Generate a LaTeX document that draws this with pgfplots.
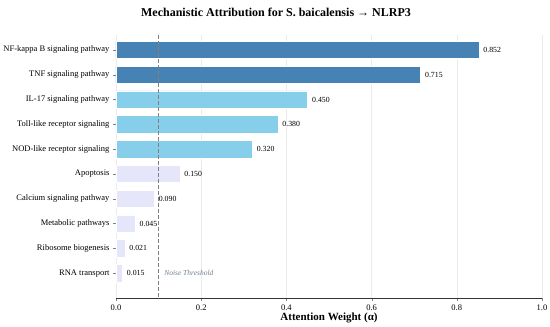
\documentclass[border=0pt]{standalone}
\usepackage{pgfplots}
\pgfplotsset{compat=1.18}
\usepackage{fontspec}
\setmainfont{Liberation Serif}
\definecolor{darkb}{HTML}{4682B4}
\definecolor{lightb}{HTML}{87CEEB}
\definecolor{lav}{HTML}{E6E6FA}
\definecolor{thr}{HTML}{708090}
\begin{document}
\begin{tikzpicture}
\path[use as bounding box] (0,0) rectangle (550pt,327pt);
\begin{axis}[
  at={(116pt,29pt)}, anchor=south west,
  scale only axis, width=426pt, height=263pt,
  xbar, bar width=0.7, bar shift=0pt,
  y dir=reverse,
  xmin=0, xmax=1.0, ymin=-0.6, ymax=10,
  axis lines*=left,
  y axis line style={draw=none},
  x axis line style={line width=0.8pt, black!80},
  tick align=outside,
  major tick length=3pt,
  xtick={0,0.2,0.4,0.6,0.8,1.0},
  ytick={0,...,9},
  yticklabels={NF-kappa B signaling pathway,TNF signaling pathway,IL-17 signaling pathway,Toll-like receptor signaling,NOD-like receptor signaling,Apoptosis,Calcium signaling pathway,Metabolic pathways,Ribosome biogenesis,RNA transport},
  /pgf/number format/assume math mode=true,
  xticklabel={\pgfmathprintnumber[fixed,precision=1,fixed zerofill]{\tick}},
  ticklabel style={font=\fontsize{8.5}{10}\selectfont},
  xmajorgrids, grid style={black!8, line width=0.5pt},
  xlabel={\textbf{Attention Weight (α)}},
  xlabel style={font=\fontsize{11}{13}\selectfont, yshift=4pt},
  nodes near coords={\pgfmathprintnumber[fixed,precision=3,fixed zerofill]{\pgfplotspointmeta}},
  point meta=x,
  every node near coord/.append style={font=\fontsize{7.8}{9}\selectfont, black, xshift=1pt},
  clip=false,
]
\addplot[fill=darkb, draw=white, line width=0.4pt] coordinates {(0.852,0) (0.715,1)};
\addplot[fill=lightb, draw=white, line width=0.4pt] coordinates {(0.450,2) (0.380,3) (0.320,4)};
\addplot[fill=lav, draw=white, line width=0.4pt] coordinates {(0.150,5) (0.090,6) (0.045,7) (0.021,8) (0.015,9)};
\addplot[sharp plot, gray, dash pattern=on 4pt off 2pt, line width=0.8pt, nodes near coords={}, forget plot] coordinates {(0.1,-0.6) (0.1,10)};
\node[anchor=west, text=thr, font=\fontsize{7.5}{9}\selectfont\itshape] at (axis cs:0.105,9) {Noise Threshold};
\end{axis}
\node[font=\fontsize{12}{15}\selectfont\bfseries] at (276pt,315pt) {Mechanistic Attribution for S. baicalensis → NLRP3};
\end{tikzpicture}
\end{document}
